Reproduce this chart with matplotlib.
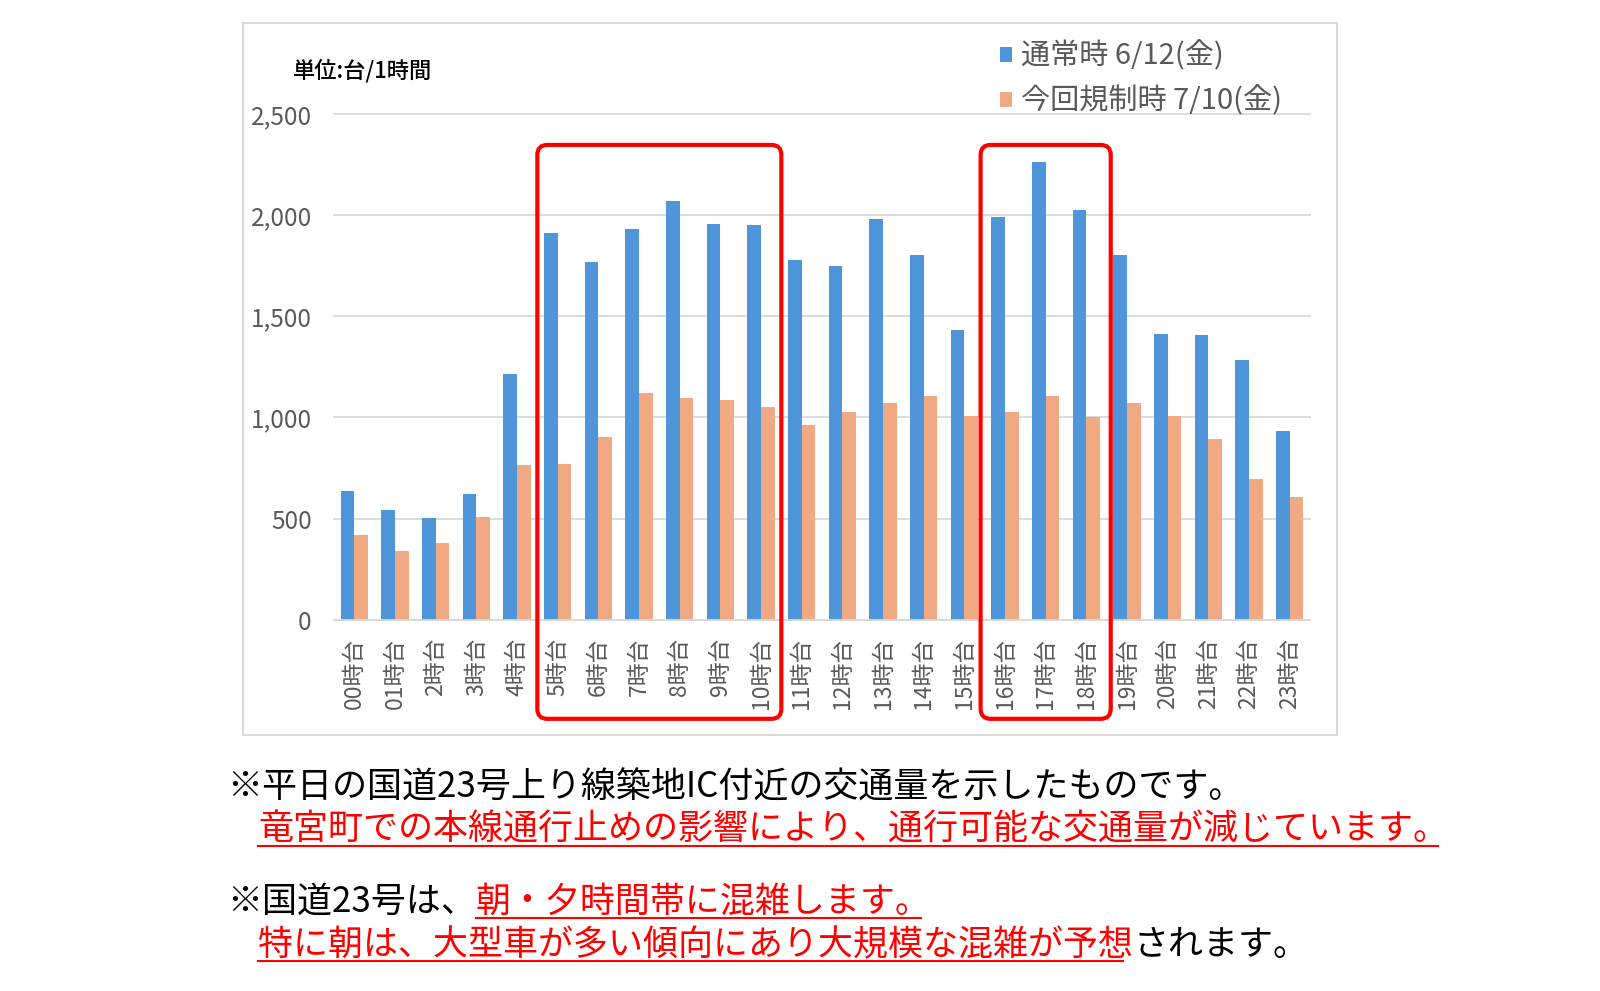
import numpy as np
import matplotlib
matplotlib.use('Agg')
import matplotlib.pyplot as plt
from matplotlib.patches import FancyBboxPatch, Rectangle
from matplotlib.lines import Line2D
from matplotlib.transforms import IdentityTransform

plt.rcParams['font.family'] = ['Noto Sans CJK JP', 'DejaVu Sans']

# traffic volume per hour (vehicles / 1 hour)
hours = ['00時台', '01時台', '2時台', '3時台', '4時台', '5時台', '6時台', '7時台',
         '8時台', '9時台', '10時台', '11時台', '12時台', '13時台', '14時台', '15時台',
         '16時台', '17時台', '18時台', '19時台', '20時台', '21時台', '22時台', '23時台']
normal = [636, 540, 501, 621, 1216, 1913, 1769, 1931, 2072, 1954, 1951, 1776,
          1748, 1983, 1801, 1430, 1990, 2264, 2026, 1801, 1412, 1405, 1285, 931]
restricted = [417, 341, 379, 506, 764, 769, 904, 1120, 1094, 1086, 1051, 964,
              1025, 1071, 1107, 1007, 1025, 1107, 1000, 1071, 1007, 895, 694, 608]
series_labels = ['通常時 6/12(金)', '今回規制時 7/10(金)']
yticks = [0, 500, 1000, 1500, 2000, 2500]
unit_label = '単位:台/1時間'

# red frames around the busy hours (category positions)
highlight_spans = [(4.5, 10.5), (15.4, 18.6)]

notes = [
    [('※平日の国道23号上り線築地IC付近の交通量を示したものです。', 'black', False)],
    [('竜宮町での本線通行止めの影響により、通行可能な交通量が減じています。', 'red', True)],
    [('※国道23号は、', 'black', False), ('朝・夕時間帯に混雑します。', 'red', True)],
    [('特に朝は、大型車が多い傾向にあり大規模な混雑が予想', 'red', True), ('されます。', 'black', False)],
]

BLUE = '#4E95D9'
ORANGE = '#F1A983'
GRID = '#d9d9d9'
TXT = '#595959'

W, H = 1600, 991
fig = plt.figure(figsize=(W / 100, H / 100), dpi=100)
fig.patch.set_facecolor('white')

# chart frame
fig.add_artist(Rectangle((243 / W, 1 - 735 / H), (1337 - 243) / W, (735 - 23) / H,
                         transform=fig.transFigure, fill=False, ec=GRID, lw=1.5))

ax = fig.add_axes([334 / W, 1 - 619.7 / H, 976 / W, 505.7 / H])
x = np.arange(len(hours))
w = 0.335
ax.bar(x - w / 2, normal, w, color=BLUE, label=series_labels[0])
ax.bar(x + w / 2, restricted, w, color=ORANGE, label=series_labels[1])

ax.set_xlim(-0.5, len(hours) - 0.5)
ax.set_ylim(0, 2500)
ax.set_yticks(yticks)
ax.set_yticklabels(['{:,}'.format(v) for v in yticks])
ax.set_xticks(x)
ax.set_xticklabels(hours, rotation=90)
ax.yaxis.grid(True, color=GRID, lw=1.3, clip_on=False)
ax.set_axisbelow(True)
for s in ['top', 'right', 'left']:
    ax.spines[s].set_visible(False)
ax.spines['bottom'].set_color(GRID)
ax.spines['bottom'].set_linewidth(1.3)
ax.tick_params(axis='y', length=0, labelsize=17.5, labelcolor=TXT, pad=16)
ax.tick_params(axis='x', length=0, labelsize=16.5, labelcolor=TXT, pad=13)

fig.text(293 / W, 1 - 71 / H, unit_label, fontsize=16, va='center', ha='left',
         color='black', fontweight='medium')

fig.legend(loc='upper left', bbox_to_anchor=(1000 / W, 1 - 41 / H), frameon=False,
           fontsize=21, labelcolor=TXT, borderaxespad=0, borderpad=0,
           handlelength=0.42, handleheight=0.42, handletextpad=0.3, labelspacing=0.5)

# highlight frames
for x0, x1 in highlight_spans:
    (px0, py0), (px1, py1) = ax.transData.transform([(x0, -490), (x1, 2347)])
    fig.add_artist(FancyBboxPatch((px0, py0), px1 - px0, py1 - py0,
                                  boxstyle='round,pad=0,rounding_size=10',
                                  transform=IdentityTransform(), fill=False,
                                  ec='red', lw=3))

# notes below the chart
renderer = fig.canvas.get_renderer()
starts = [227, 258, 227, 258]
centers = [788, 830, 902, 945]
for line, sx, cy in zip(notes, starts, centers):
    px = sx
    for s, col, under in line:
        t = fig.text(px, H - cy, s, transform=IdentityTransform(), fontsize=25.2,
                     color=col, va='center', ha='left')
        bb = t.get_window_extent(renderer)
        if under:
            fig.add_artist(Line2D([bb.x0, bb.x1 - 10], [H - cy - 16, H - cy - 16],
                                  transform=IdentityTransform(), color='red', lw=1.5))
        px = bb.x1

fig.savefig('out.png', dpi=100, facecolor='white')
